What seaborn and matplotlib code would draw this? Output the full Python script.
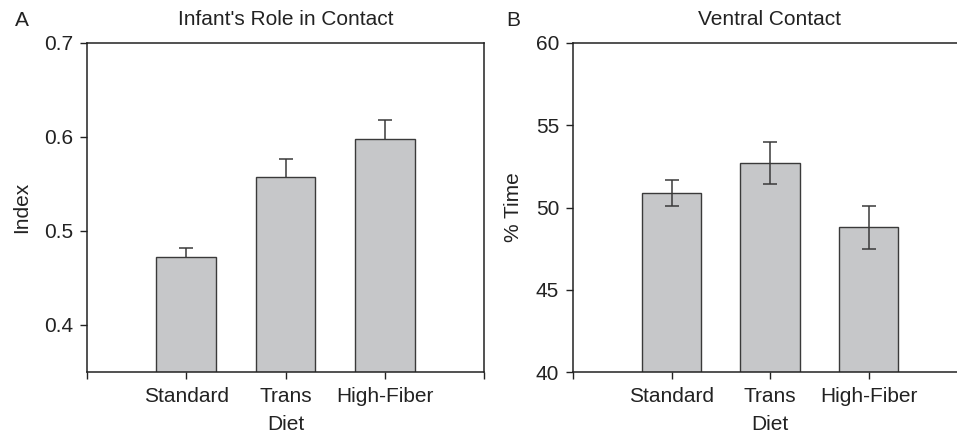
import matplotlib
matplotlib.use("Agg")
import matplotlib.pyplot as plt
import seaborn as sns
import numpy as np
import pandas as pd

sns.set_theme(style="ticks")
plt.rcParams['font.family'] = ['Liberation Sans', 'DejaVu Sans']

diets = ["Standard", "Trans", "High-Fiber"]
# Panel A: Infant's Role in Contact (Index)
index_mean = [0.472, 0.557, 0.598]
index_err_up = [0.010, 0.020, 0.020]
# Panel B: Ventral Contact (% Time)
ventral_mean = [50.9, 52.7, 48.8]
ventral_err = [0.8, 1.3, 1.3]

bar_color = "#c6c7c9"
edge_color = "#3a3a3a"
txt = "#222222"
FS = 15

fig = plt.figure(figsize=(9.57, 4.38), dpi=100)
axA = fig.add_axes([87/957, 66/438, 397/957, 329/438])
axB = fig.add_axes([573/957, 66/438, 394/957, 329/438])

def draw(ax, means, yerr, title, ylabel, ylim, yticks, upper_only=False):
    df = pd.DataFrame({"Diet": diets, "val": means})
    sns.barplot(data=df, x="Diet", y="val", color=bar_color, saturation=1,
                width=0.6, edgecolor=edge_color, linewidth=1.0, ax=ax, errorbar=None)
    xs = [p.get_x() + p.get_width() / 2 for p in ax.patches]
    _, caps, _ = ax.errorbar(xs, means, yerr=yerr, fmt="none", ecolor=edge_color,
                             elinewidth=1.1, capsize=5, capthick=1.1, zorder=3)
    if upper_only:
        caps[0].set_visible(False)
    ax.set_xlim(-1, 3)
    ax.set_ylim(*ylim)
    ax.set_yticks(yticks)
    ax.set_xticks([-1, 0, 1, 2, 3])
    ax.set_xticklabels(["", "Standard", "Trans", "High-Fiber", ""])
    ax.tick_params(axis="both", direction="out", length=5, width=1,
                   labelsize=FS, colors=txt, pad=5)
    ax.tick_params(axis="x", pad=6)
    ax.set_xlabel("Diet", fontsize=FS, color=txt, labelpad=6)
    ax.set_ylabel(ylabel, fontsize=FS, color=txt, labelpad=9)
    ax.set_title(title, fontsize=FS, color=txt, pad=13)
    for s in ax.spines.values():
        s.set_visible(True)
        s.set_linewidth(1.1)
        s.set_color(txt)

draw(axA, index_mean, [[0, 0, 0], index_err_up], "Infant's Role in Contact", "Index",
     (0.35, 0.7), [0.4, 0.5, 0.6, 0.7], upper_only=True)
axA.set_yticklabels(["0.4", "0.5", "0.6", "0.7"])
draw(axB, ventral_mean, ventral_err, "Ventral Contact", "% Time",
     (40, 60), [40, 45, 50, 55, 60])

fig.text(22/957, 1 - 20/438, "A", fontsize=FS, ha="center", va="center", color=txt)
fig.text(513/957, 1 - 20/438, "B", fontsize=FS, ha="center", va="center", color=txt)

fig.savefig("out.png", dpi=100)
